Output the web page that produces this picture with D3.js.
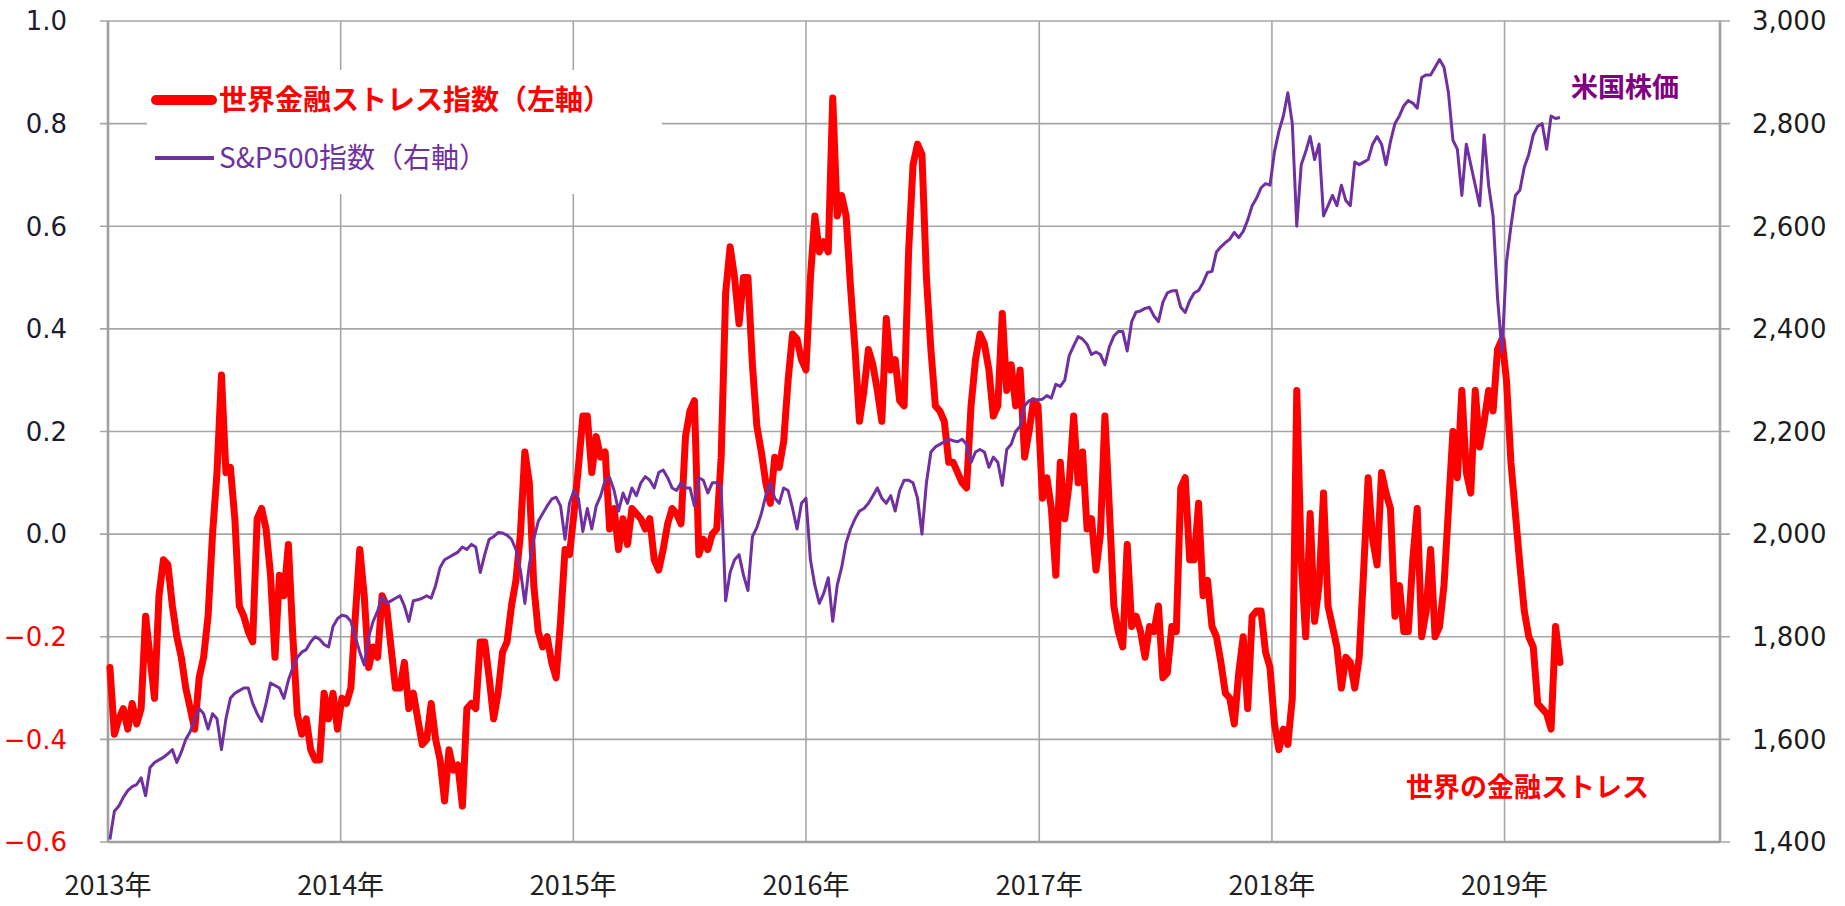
<!DOCTYPE html>
<meta charset="utf-8">
<script src="https://d3js.org/d3.v7.min.js"></script>

<div id="main"></div>

<style>
body { margin: 0; background: #fff; }
.grid line { stroke: #a6a6a6; stroke-width: 1.6; }
.axisline { stroke: #a0a0a0; stroke-width: 2.6; }
.tick-l, .tick-r { font-family: "DejaVu Sans", Verdana, sans-serif; font-size: 26px; }
.year { font-family: "Noto Sans CJK JP", sans-serif; font-size: 27px; fill: #222; }
.jp { font-family: "Noto Sans CJK JP", sans-serif; }
</style>

<script>
// weekly observations, first one on this date
const weekStart = "2013-01-04";

// world financial stress index (left axis)
const stress = [
  -0.26,-0.39,-0.36,-0.34,-0.38,-0.33,-0.37,-0.34,-0.16,-0.24,-0.32,-0.12,-0.05,-0.06,-0.14,-0.20,
  -0.24,-0.30,-0.34,-0.38,-0.28,-0.24,-0.16,0.00,0.12,0.31,0.12,0.13,0.03,-0.14,-0.16,-0.19,
  -0.21,0.03,0.05,0.01,-0.08,-0.24,-0.08,-0.12,-0.02,-0.20,-0.35,-0.39,-0.36,-0.42,-0.44,-0.44,
  -0.31,-0.36,-0.31,-0.38,-0.32,-0.33,-0.30,-0.16,-0.03,-0.12,-0.26,-0.22,-0.24,-0.12,-0.14,-0.22,
  -0.30,-0.30,-0.25,-0.34,-0.31,-0.36,-0.41,-0.40,-0.33,-0.40,-0.44,-0.52,-0.42,-0.46,-0.45,-0.53,
  -0.34,-0.33,-0.34,-0.21,-0.21,-0.28,-0.36,-0.31,-0.23,-0.21,-0.14,-0.09,0.00,0.16,0.10,-0.10,
  -0.19,-0.22,-0.20,-0.25,-0.28,-0.17,-0.03,-0.04,0.04,0.13,0.23,0.23,0.12,0.19,0.15,0.16,
  0.01,0.05,-0.03,0.03,-0.02,0.05,0.04,0.03,0.01,0.03,-0.05,-0.07,-0.03,0.02,0.05,0.04,
  0.02,0.19,0.24,0.26,-0.04,-0.01,-0.03,0.00,0.01,0.15,0.47,0.56,0.50,0.41,0.50,0.50,
  0.33,0.21,0.16,0.10,0.06,0.15,0.13,0.18,0.30,0.39,0.38,0.34,0.32,0.50,0.62,0.55,
  0.57,0.55,0.85,0.62,0.66,0.62,0.48,0.36,0.22,0.28,0.36,0.33,0.28,0.22,0.42,0.32,
  0.34,0.26,0.25,0.55,0.72,0.76,0.74,0.50,0.36,0.25,0.24,0.22,0.14,0.14,0.12,0.10,
  0.09,0.25,0.34,0.39,0.37,0.32,0.23,0.25,0.43,0.28,0.33,0.25,0.32,0.15,0.20,0.26,
  0.25,0.07,0.11,0.05,-0.08,0.14,0.03,0.10,0.23,0.10,0.16,0.01,0.03,-0.07,0.00,0.23,
  0.05,-0.14,-0.19,-0.22,-0.02,-0.18,-0.16,-0.19,-0.24,-0.18,-0.19,-0.14,-0.28,-0.27,-0.18,-0.19,
  0.09,0.11,-0.05,-0.05,0.06,-0.12,-0.09,-0.18,-0.20,-0.25,-0.31,-0.32,-0.37,-0.27,-0.20,-0.34,
  -0.16,-0.15,-0.15,-0.23,-0.26,-0.37,-0.42,-0.38,-0.41,-0.32,0.28,-0.05,-0.20,0.04,-0.17,-0.10,
  0.08,-0.14,-0.18,-0.22,-0.30,-0.24,-0.25,-0.30,-0.24,-0.07,0.11,-0.01,-0.06,0.12,0.08,0.05,
  -0.16,-0.10,-0.19,-0.19,-0.05,0.05,-0.20,-0.15,-0.03,-0.20,-0.18,-0.10,0.05,0.20,0.11,0.28,
  0.12,0.08,0.28,0.17,0.22,0.28,0.24,0.36,0.38,0.30,0.14,0.04,-0.06,-0.15,-0.20,-0.22,
  -0.33,-0.34,-0.35,-0.38,-0.18,-0.25
];

// S&P500 (right axis)
const sp500 = [
  1405,1460,1470,1487,1500,1508,1512,1525,1490,1545,1555,1560,1565,1572,1580,1555,
  1575,1600,1615,1640,1660,1650,1620,1650,1640,1580,1640,1680,1690,1695,1700,1700,
  1670,1650,1635,1670,1710,1705,1700,1680,1715,1740,1760,1770,1775,1790,1800,1795,
  1785,1780,1820,1835,1842,1840,1830,1800,1770,1745,1800,1830,1850,1878,1865,1870,
  1875,1880,1860,1830,1870,1872,1875,1880,1875,1900,1935,1950,1955,1960,1965,1975,
  1970,1980,1975,1925,1960,1990,1995,2003,2002,1998,1990,1970,1930,1865,1940,1990,
  2025,2040,2055,2068,2072,2055,1990,2060,2085,2070,2005,2050,2010,2055,2075,2105,
  2110,2085,2045,2080,2060,2090,2075,2100,2112,2105,2090,2120,2125,2110,2090,2085,
  2100,2090,2090,2055,2110,2105,2080,2100,2100,2090,1870,1925,1950,1960,1920,1890,
  1995,2013,2040,2075,2100,2070,2060,2090,2085,2050,2010,2060,2070,1950,1900,1865,
  1885,1915,1830,1900,1935,1983,2010,2030,2045,2050,2060,2075,2090,2070,2060,2075,
  2045,2085,2105,2105,2100,2070,2000,2100,2160,2170,2175,2180,2185,2182,2180,2185,
  2175,2140,2160,2165,2160,2130,2150,2140,2095,2165,2175,2200,2210,2250,2260,2262,
  2262,2263,2270,2265,2292,2288,2300,2348,2367,2385,2380,2370,2350,2355,2350,2330,
  2365,2386,2395,2395,2357,2414,2433,2435,2440,2442,2425,2414,2452,2470,2474,2475,
  2442,2432,2455,2470,2475,2490,2510,2512,2550,2560,2568,2575,2588,2578,2590,2612,
  2640,2655,2675,2683,2680,2745,2785,2815,2860,2800,2600,2720,2745,2775,2730,2760,
  2620,2640,2660,2640,2680,2650,2640,2725,2720,2725,2730,2760,2775,2760,2720,2765,
  2800,2815,2835,2845,2840,2830,2890,2895,2895,2910,2925,2910,2860,2768,2750,2660,
  2760,2720,2680,2640,2778,2680,2620,2460,2355,2530,2600,2660,2670,2715,2740,2778,
  2795,2800,2750,2815,2810,2812
];

const leftTicks = [-0.6, -0.4, -0.2, 0.0, 0.2, 0.4, 0.6, 0.8, 1.0];
const rightTicks = [1400, 1600, 1800, 2000, 2200, 2400, 2600, 2800, 3000];
const years = [2013, 2014, 2015, 2016, 2017, 2018, 2019];
const legendLabels = ["世界金融ストレス指数（左軸）", "S&P500指数（右軸）"];
const notes = ["米国株価", "世界の金融ストレス"];

const W = 1845, H = 906;
const margin = {top: 21, right: 125, bottom: 64, left: 108};
const width = W - margin.left - margin.right,
      height = H - margin.top - margin.bottom;

const red = "#ff0000", purple = "#7030a0";

const svg = d3.select("#main").append("svg")
    .attr("width", W)
    .attr("height", H);

const g = svg.append("g")
    .attr("transform", "translate(" + margin.left + "," + margin.top + ")");

const t0 = d3.timeParse("%Y-%m-%d")(weekStart);
const dates = stress.map((d, i) => d3.timeDay.offset(t0, 7 * i));

const x = d3.scaleTime()
    .domain([new Date(2013, 0, 1), new Date(2019, 11, 5)])
    .range([0, width]);
const yL = d3.scaleLinear().domain([-0.6, 1.0]).range([height, 0]);
const yR = d3.scaleLinear().domain([1400, 3000]).range([height, 0]);

// horizontal grid (ticks stick out on both sides)
g.append("g").attr("class", "grid")
  .selectAll("line")
  .data(leftTicks)
  .enter().append("line")
    .attr("x1", -8).attr("x2", width + 10)
    .attr("y1", d => yL(d)).attr("y2", d => yL(d));

// vertical grid at each year
g.append("g").attr("class", "grid")
  .selectAll("line")
  .data(years.slice(1))
  .enter().append("line")
    .attr("x1", d => x(new Date(d, 0, 1))).attr("x2", d => x(new Date(d, 0, 1)))
    .attr("y1", 0).attr("y2", height);

// legend box hides the grid behind it
g.append("rect")
    .attr("x", 147 - margin.left).attr("y", 70 - margin.top)
    .attr("width", 515).attr("height", 124)
    .attr("fill", "#fff");

// axis lines
g.append("line").attr("class", "axisline").attr("x1", 0).attr("x2", 0).attr("y1", 0).attr("y2", height);
g.append("line").attr("class", "axisline").attr("x1", width).attr("x2", width).attr("y1", 0).attr("y2", height);
g.append("line").attr("class", "axisline").attr("x1", 0).attr("x2", width).attr("y1", height).attr("y2", height);

// tick labels
g.append("g").selectAll("text")
  .data(leftTicks)
  .enter().append("text")
    .attr("class", "tick-l")
    .attr("x", 67 - margin.left)
    .attr("y", d => yL(d))
    .attr("dy", "0.36em")
    .attr("text-anchor", "end")
    .attr("fill", d => d < 0 ? red : "#1c1c2e")
    .text(d3.format(".1f"));

g.append("g").selectAll("text")
  .data(rightTicks)
  .enter().append("text")
    .attr("class", "tick-r")
    .attr("x", width + 32)
    .attr("y", d => yR(d))
    .attr("dy", "0.36em")
    .attr("fill", "#1c1c1c")
    .text(d3.format(",.0f"));

g.append("g").selectAll("text")
  .data(years)
  .enter().append("text")
    .attr("class", "year")
    .attr("x", d => x(new Date(d, 0, 1)))
    .attr("y", 885 - margin.top)
    .attr("dy", "0.36em")
    .attr("text-anchor", "middle")
    .text(d => d + "年");

// lines
const lineL = d3.line()
    .x((d, i) => x(dates[i]))
    .y(d => yL(d));
const lineR = d3.line()
    .x((d, i) => x(dates[i]))
    .y(d => yR(d));

g.append("path")
    .datum(stress)
    .attr("d", lineL)
    .attr("fill", "none")
    .attr("stroke", red)
    .attr("stroke-width", 7)
    .attr("stroke-linejoin", "round")
    .attr("stroke-linecap", "round");

g.append("path")
    .datum(sp500)
    .attr("d", lineR)
    .attr("fill", "none")
    .attr("stroke", purple)
    .attr("stroke-width", 3)
    .attr("stroke-linejoin", "round");

// legend
const lg = svg.append("g");
lg.append("line")
    .attr("x1", 156).attr("x2", 212).attr("y1", 100).attr("y2", 100)
    .attr("stroke", red).attr("stroke-width", 10).attr("stroke-linecap", "round");
lg.append("text")
    .attr("class", "jp")
    .attr("x", 219).attr("y", 100).attr("dy", "0.36em")
    .attr("font-size", 28).attr("font-weight", "bold")
    .attr("fill", red)
    .text(legendLabels[0]);
lg.append("line")
    .attr("x1", 155).attr("x2", 214).attr("y1", 158).attr("y2", 158)
    .attr("stroke", purple).attr("stroke-width", 4);
lg.append("text")
    .attr("class", "jp")
    .attr("x", 219).attr("y", 158).attr("dy", "0.36em")
    .attr("font-size", 28)
    .attr("fill", purple)
    .text(legendLabels[1]);

// annotations
svg.append("text")
    .attr("class", "jp")
    .attr("x", 1571).attr("y", 87).attr("dy", "0.36em")
    .attr("font-size", 27).attr("font-weight", "bold")
    .attr("fill", "#800080")
    .text(notes[0]);
svg.append("text")
    .attr("class", "jp")
    .attr("x", 1406).attr("y", 787).attr("dy", "0.36em")
    .attr("font-size", 27).attr("font-weight", "bold")
    .attr("fill", red)
    .text(notes[1]);
</script>
